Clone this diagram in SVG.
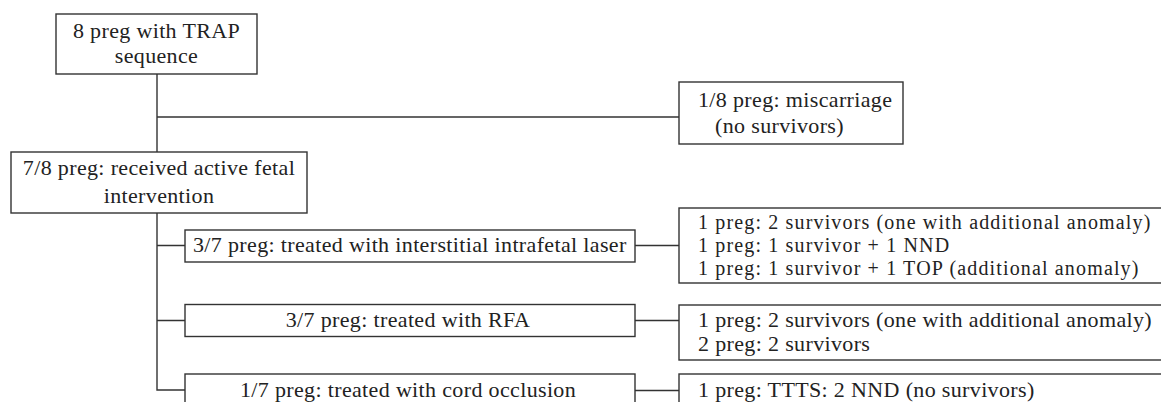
<svg xmlns="http://www.w3.org/2000/svg" width="1161" height="402" viewBox="0 0 1161 402">
<style>
.box{fill:#fff;stroke:#333;stroke-width:1.4}
.ln{fill:none;stroke:#333;stroke-width:1.4}
text{font-family:"Liberation Serif","Times New Roman",serif;font-size:22px;letter-spacing:0.35px;fill:#222}
.c{text-anchor:middle}
.t{font-size:20px;letter-spacing:1.15px}
</style>
<rect width="1161" height="402" fill="#fff"/>
<g id="connectors">
<path class="ln" d="M157,74 V152 M157,117 H679 M157,213 V390 H185 M157,245.5 H185 M157,320.5 H185 M635,245.5 H679 M635,320.5 H679 M635,390.5 H679"/>
</g>
<g id="n1"><rect class="box" x="56" y="14" width="201" height="60"/>
<text class="c" x="156.5" y="38">8 preg with TRAP</text><text class="c" x="156.5" y="63">sequence</text></g>
<g id="n2"><rect class="box" x="679" y="82" width="224" height="62"/>
<text x="698" y="107">1/8 preg: miscarriage</text><text x="715" y="133">(no survivors)</text></g>
<g id="n3"><rect class="box" x="11" y="152" width="296" height="61"/>
<text class="c" x="159" y="175">7/8 preg: received active fetal</text><text class="c" x="159" y="203">intervention</text></g>
<g id="n4"><rect class="box" x="185" y="230" width="450" height="32"/>
<text x="193" y="252">3/7 preg: treated with interstitial intrafetal laser</text></g>
<g id="n5"><rect class="box" x="679" y="208" width="490" height="75"/>
<text class="t" x="698" y="229">1 preg: 2 survivors (one with additional anomaly)</text>
<text class="t" x="698" y="252">1 preg: 1 survivor + 1 NND</text>
<text class="t" x="698" y="275">1 preg: 1 survivor + 1 TOP (additional anomaly)</text></g>
<g id="n6"><rect class="box" x="185" y="304.5" width="450" height="32"/>
<text class="c" x="408" y="327">3/7 preg: treated with RFA</text></g>
<g id="n7"><rect class="box" x="679" y="305" width="490" height="55"/>
<text x="698" y="327">1 preg: 2 survivors (one with additional anomaly)</text>
<text x="698" y="351">2 preg: 2 survivors</text></g>
<g id="n8"><rect class="box" x="185" y="374" width="450" height="40"/>
<text class="c" x="408" y="397">1/7 preg: treated with cord occlusion</text></g>
<g id="n9"><rect class="box" x="679" y="374" width="490" height="40"/>
<text x="698" y="397">1 preg: TTTS: 2 NND (no survivors)</text></g>
</svg>
